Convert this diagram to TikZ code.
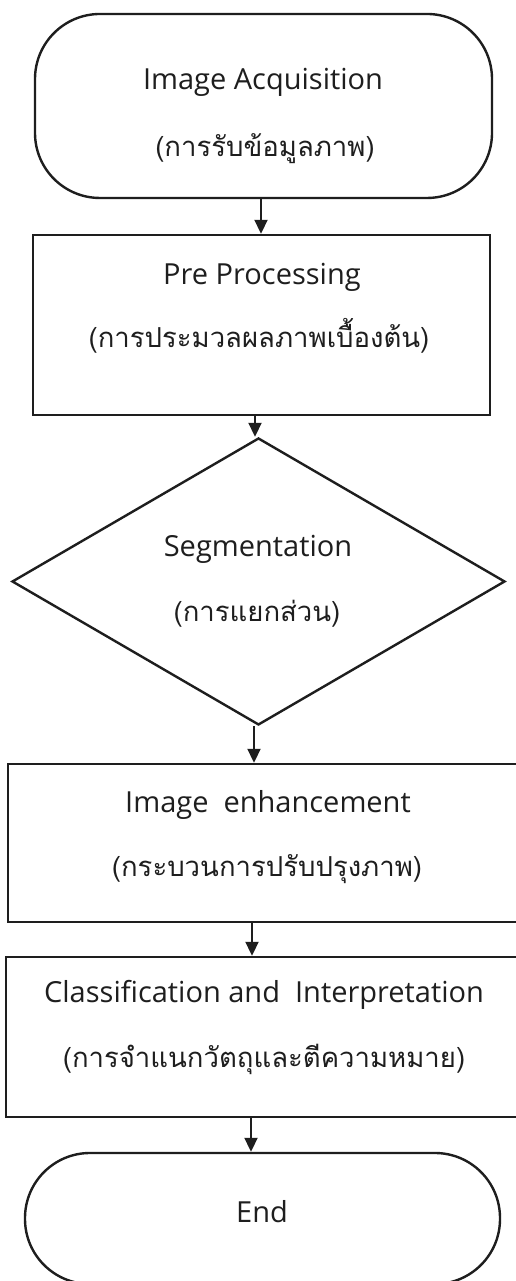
\documentclass[tikz,border=0pt]{standalone}
\usepackage{fontspec}
\setmainfont{Open Sans}
\newfontfamily\thaifont[Script=Thai]{Loma}
\usetikzlibrary{shapes.geometric,arrows.meta}
\definecolor{ink}{HTML}{1E1E1E}
\begin{document}
\begin{tikzpicture}[x=1pt,y=1pt,
  line/.style={draw=ink, line width=2.4pt},
  term/.style={line, rounded corners=65pt, inner sep=0pt},
  box/.style={line, inner sep=0pt},
  dec/.style={line, diamond, inner sep=0pt},
  en/.style={font=\fontsize{29}{32}\selectfont, text=ink, anchor=base, inner sep=0pt},
  th/.style={font=\thaifont\fontsize{27.5}{30}\selectfont, text=ink, anchor=base, inner sep=0pt},
  arr/.style={draw=ink, line width=2pt, -{Triangle[length=14pt,width=13pt]}}]
\useasboundingbox (0,0) rectangle (515,1281);
\fill[white] (0,0) rectangle (515,1281);

% shapes
\node[term, minimum width=457pt, minimum height=184pt] (start) at (263.5,1175) {};
\node[box, minimum width=457pt, minimum height=180pt] (pre) at (261.5,956) {};
\node[dec, minimum width=493pt, minimum height=287pt] (seg) at (258.5,699.5) {};
\node[box, minimum width=514pt, minimum height=158pt] (enh) at (265,438) {};
\node[box, minimum width=516pt, minimum height=160pt] (cls) at (264,244) {};
\node[term, minimum width=475pt, minimum height=131pt] (fin) at (262.5,62.5) {};

% texts
\node[en] (s1) at (263,1191) {Image Acquisition};
\node[th] (s2) at (265,1124) {(การรับข้อมูลภาพ)};
\node[en] (p1) at (262,996) {Pre Processing};
\node[th] (p2) at (259,933) {(การประมวลผลภาพเบื้องต้น)};
\node[en] (g1) at (258,724) {Segmentation};
\node[th] (g2) at (257,659) {(การแยกส่วน)};
\node[en] (e1) at (268,468) {Image\ \ enhancement};
\node[th] (e2) at (267,404) {(กระบวนการปรับปรุงภาพ)};
\node[en] (c1) at (264,278) {Classification and\ \ Interpretation};
\node[th] (c2) at (264,213) {(การจำแนกวัตถุและตีความหมาย)};
\node[en] (d1) at (262,58) {End};

% connectors
\coordinate (x1) at (261,0);
\coordinate (x2) at (255,0);
\coordinate (x3) at (254,0);
\coordinate (x4) at (252,0);
\coordinate (x5) at (251,0);
\draw[arr] (start.south -| x1) -- (pre.north -| x1);
\draw[arr] (pre.south -| x2) -- (seg.north -| x2);
\draw[arr] (seg.south -| x3) -- (enh.north -| x3);
\draw[arr] (enh.south -| x4) -- (cls.north -| x4);
\draw[arr] (cls.south -| x5) -- (fin.north -| x5);
\end{tikzpicture}
\end{document}
